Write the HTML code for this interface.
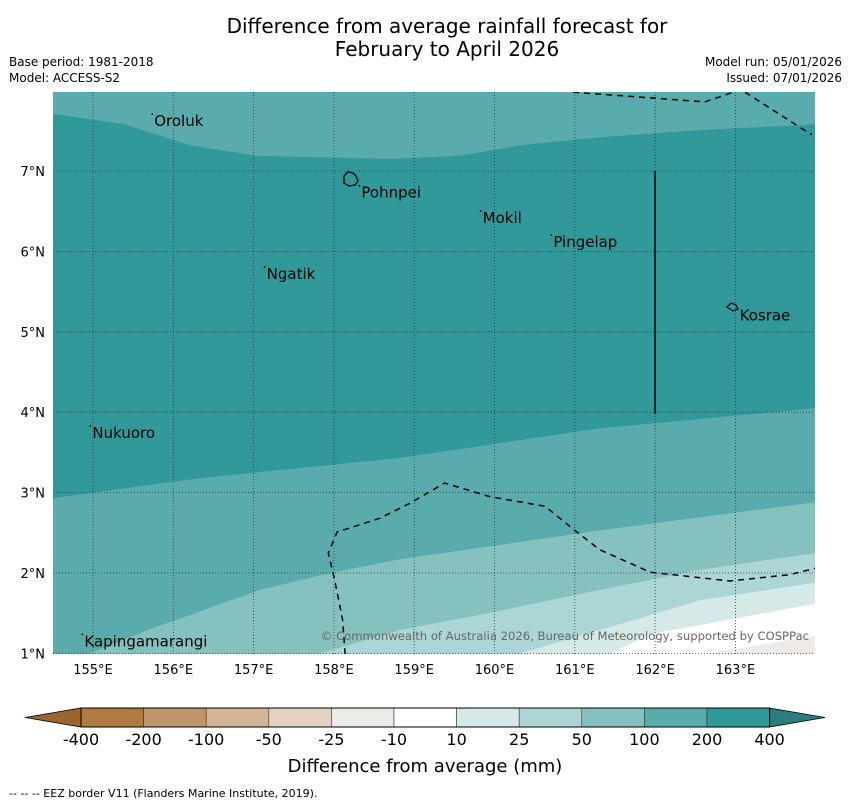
<!DOCTYPE html>
<html><head><meta charset="utf-8"><style>
body{margin:0;background:#fff;width:850px;height:804px;overflow:hidden;font-family:"DejaVu Sans","Liberation Sans",sans-serif}
</style></head><body>
<svg id="chart" width="850" height="804" xmlns="http://www.w3.org/2000/svg" font-family="DejaVu Sans, Liberation Sans, sans-serif">
<text x="447" y="33" font-size="20" text-anchor="middle">Difference from average rainfall forecast for</text>
<text x="447" y="56" font-size="20" text-anchor="middle">February to April 2026</text>
<text x="9" y="66" font-size="12">Base period: 1981-2018</text>
<text x="9" y="82" font-size="12">Model: ACCESS-S2</text>
<text x="842" y="66" font-size="12" text-anchor="end">Model run: 05/01/2026</text>
<text x="842" y="82" font-size="12" text-anchor="end">Issued: 07/01/2026</text>
<defs><clipPath id="mc"><rect x="53" y="92" width="762" height="562"/></clipPath></defs>
<g id="map" clip-path="url(#mc)"></g>
<g id="axes"></g>
<g id="cbar"></g>
<text x="425" y="772" font-size="18" text-anchor="middle">Difference from average (mm)</text>
<text x="9" y="797" font-size="11">--  --  -- EEZ border V11 (Flanders Marine Institute, 2019).</text>
</svg>
<script>
const NS="http://www.w3.org/2000/svg";
// contour boundaries [lon, lat]
const band200Top=[[154.5,7.71],[155.4,7.58],[156.21,7.32],[157.02,7.19],[158.7,7.15],[159.57,7.19],[160.32,7.32],[161.31,7.42],[162.56,7.51],[164,7.58]];
const band200Bottom=[[154.5,2.93],[156.33,3.18],[158.82,3.43],[161.31,3.8],[164,4.05]];
const line50=[[154.96,1.0],[155.71,1.3],[157.08,1.79],[157.95,2.0],[158.82,2.17],[160.07,2.35],[161.31,2.53],[164,2.88]];
const line25=[[157.83,1.0],[158.82,1.29],[159.82,1.48],[161.31,1.79],[162.56,2.04],[164,2.25]];
const line10=[[160.32,1.0],[161.31,1.29],[162.56,1.66],[164,1.88]];
const lineM10=[[161.44,1.0],[161.94,1.24],[164,1.62]];
const lineM25=[[162.68,1.0],[164,1.22]];
const eezTop1=[[160.98,7.98],[162.62,7.86],[163.06,8.01]];
const eezTop2=[[163.12,7.98],[163.95,7.45]];
const eezLoop=[[158.14,0.99],[158.11,1.41],[158.01,1.91],[157.93,2.25],[158.04,2.51],[158.57,2.68],[158.95,2.87],[159.38,3.12],[159.94,2.95],[160.63,2.83],[161.0,2.53],[161.31,2.29],[161.94,2.01],[162.93,1.9],[163.68,1.98],[164,2.06]];
const borderLine=[[162,7.0],[162,3.98]];
const places=["Oroluk","Pohnpei","Mokil","Pingelap","Ngatik","Kosrae","Nukuoro","Kapingamarangi"];
const placeLon=[155.75,158.33,159.84,160.72,157.15,163.04,154.98,154.88];
const placeLat=[7.62,6.73,6.415,6.117,5.72,5.2,3.74,1.15];
const lonTicks=[155,156,157,158,159,160,161,162,163];
const latTicks=[1,2,3,4,5,6,7];
const cbLabels=["-400","-200","-100","-50","-25","-10","10","25","50","100","200","400"];
const cbColors=["#b07a40","#c0956a","#d3b494","#e4d2c1","#eeeae7","#ffffff","#d5e9e8","#acd6d5","#85c1bf","#5aabab","#32999a"];
const X=lon=>93+(lon-155)*80.3, Y=lat=>171-(lat-7)*80.4;
const P=a=>a.map(p=>X(p[0]).toFixed(1)+","+Y(p[1]).toFixed(1)).join(" ");
const map=document.getElementById("map"),axes=document.getElementById("axes"),cb=document.getElementById("cbar");
function mk(tag,attrs,parent){const e=document.createElementNS(NS,tag);for(const k in attrs)e.setAttribute(k,attrs[k]);parent.appendChild(e);return e;}
let e;
e=mk("rect",{x:53,y:92,width:762,height:562,fill:"#5aabab"},map);


e=mk("polygon",{points:P(band200Top.concat(band200Bottom.slice().reverse())),fill:"#32999a"},map);


const fills=[[line50,"#85c1bf","band-50"],[line25,"#acd6d5","band-25"],[line10,"#d5e9e8","band-10"],[lineM10,"#ffffff","band-neutral"],[lineM25,"#eeeae7","band-minus-25"]];
fills.forEach(f=>{const pts=f[0].concat([[164.5,f[0][f[0].length-1][1]],[164.5,0.5],[f[0][0][0],0.5]]);
 e=mk("polygon",{points:P(pts),fill:f[1]},map);
 
 });
lonTicks.forEach(l=>{e=mk("line",{x1:X(l),x2:X(l),y1:92,y2:654,stroke:"#333","stroke-width":0.8,"stroke-dasharray":"1,2"},map);
 
 });
latTicks.forEach(l=>{e=mk("line",{x1:53,x2:815,y1:Y(l),y2:Y(l),stroke:"#333","stroke-width":0.8,"stroke-dasharray":"1,2"},map);
 
 });
[eezTop1,eezTop2,eezLoop].forEach(a=>{e=mk("polyline",{points:P(a),fill:"none",stroke:"#000","stroke-width":1.5,"stroke-dasharray":"6,5"},map);
 
 });
e=mk("polyline",{points:P(borderLine),fill:"none",stroke:"#000","stroke-width":1.6},map);


e=mk("path",{d:"M344,176 l4,-4 l5,1 l3,3 l2,5 l-3,4 l-6,1 l-5,-3 z",fill:"none",stroke:"#000","stroke-width":1.3},map);


e=mk("path",{d:"M727,307 l4,-4 l5,2 l2,4 l-5,2 z",fill:"none",stroke:"#000","stroke-width":1.2},map);


places.forEach((n,i)=>{const x=X(placeLon[i]),y=Y(placeLat[i]);
 e=mk("text",{x:x+1,y:y+5,"font-size":15,fill:"#000"},map);e.textContent=n;
 
 
 const d=mk("circle",{cx:x-1,cy:y-7,r:0.9,fill:"#000"},map);
 
 });
e=mk("text",{x:809,y:640,"font-size":11.6,fill:"#666","text-anchor":"end"},map);
e.textContent="© Commonwealth of Australia 2026, Bureau of Meteorology, supported by COSPPac";


lonTicks.forEach(l=>{e=mk("text",{x:X(l),y:674,"font-size":13,"text-anchor":"middle"},axes);e.textContent=l+"°E";
 
 });
latTicks.forEach(l=>{e=mk("text",{x:45,y:Y(l)+5,"font-size":13,"text-anchor":"end"},axes);e.textContent=l+"°N";
 
 });
const cx0=81,cw=62.6,cy=708,ch=19;
e=mk("polygon",{points:`25,717.5 ${cx0},${cy} ${cx0},${cy+ch}`,fill:"#9a6530",stroke:"#000","stroke-width":0.8},cb);


cbColors.forEach((c,i)=>{e=mk("rect",{x:cx0+i*cw,y:cy,width:cw,height:ch,fill:c,stroke:"#333","stroke-width":0.6},cb);
 
 });
const cx1=cx0+cbColors.length*cw;
e=mk("polygon",{points:`${cx1},${cy} 825,717.5 ${cx1},${cy+ch}`,fill:"#2d7b7a",stroke:"#000","stroke-width":0.8},cb);


e=mk("rect",{x:cx0,y:cy,width:cx1-cx0,height:ch,fill:"none",stroke:"#000","stroke-width":1},cb);


cbLabels.forEach((t,i)=>{e=mk("text",{x:cx0+i*cw,y:745,"font-size":16,"text-anchor":"middle"},cb);e.textContent=t;
 
 });
</script>
</body></html>
